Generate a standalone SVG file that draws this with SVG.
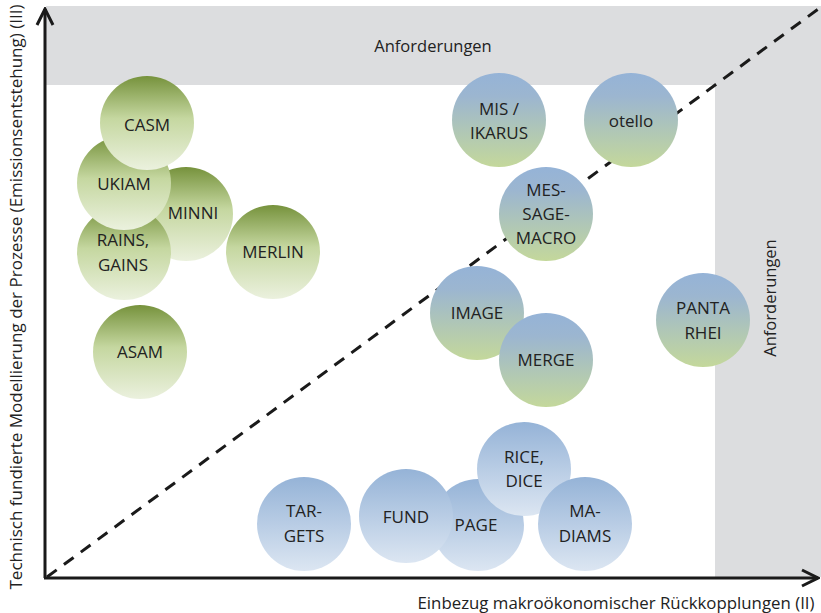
<svg xmlns="http://www.w3.org/2000/svg" width="821" height="613" viewBox="0 0 821 613">
<defs>
<linearGradient id="gGreen" x1="0" y1="0" x2="0" y2="1">
<stop offset="0" stop-color="#76923c"/>
<stop offset="0.45" stop-color="#c5d7a0"/>
<stop offset="1" stop-color="#ebf1de"/>
</linearGradient>
<linearGradient id="gMix" x1="0" y1="0" x2="0" y2="1">
<stop offset="0" stop-color="#95b3d7"/>
<stop offset="0.25" stop-color="#9cb6d0"/>
<stop offset="1" stop-color="#c4d89b"/>
</linearGradient>
<linearGradient id="gBlue" x1="0" y1="0" x2="0" y2="1">
<stop offset="0" stop-color="#95b3d7"/>
<stop offset="1" stop-color="#dce6f2"/>
</linearGradient>
<marker id="arr" viewBox="0 0 20 20" refX="18" refY="10" markerWidth="20" markerHeight="20" markerUnits="userSpaceOnUse" orient="auto">
<polyline points="2,2 18,10 2,18" fill="none" stroke="#1a1a1a" stroke-width="3"/>
</marker>
<style>
.n text{font-family:"Open Sans","Liberation Sans",sans-serif;font-size:17px;fill:#222222;text-anchor:middle}
.g circle{fill:url(#gGreen)}
.m circle{fill:url(#gMix)}
.b circle{fill:url(#gBlue)}
.lbl{font-family:"Open Sans","Liberation Sans",sans-serif;font-size:16.5px;fill:#222222;text-anchor:middle}
.axis{stroke:#1a1a1a;stroke-width:3;fill:none}
</style>
</defs>
<rect width="821" height="613" fill="#ffffff"/>
<g id="bands" fill="#dcdddf">
<rect x="46" y="6" width="775" height="79"/>
<rect x="715" y="85" width="106" height="492"/>
</g>
<text class="lbl" x="433" y="52">Anforderungen</text>
<text class="lbl" transform="translate(776,298) rotate(-90)">Anforderungen</text>
<g id="connectors">
<line x1="47" y1="577" x2="821" y2="7" stroke="#1a1a1a" stroke-width="3" stroke-dasharray="12 9"/>
<line class="axis" x1="45" y1="578" x2="45" y2="9" marker-end="url(#arr)"/>
<line class="axis" x1="44" y1="578" x2="818" y2="578" marker-end="url(#arr)"/>
</g>
<text class="lbl" transform="translate(22,297) rotate(-90)" textLength="585" lengthAdjust="spacingAndGlyphs">Technisch fundierte Modellierung der Prozesse (Emissionsentstehung) (III)</text>
<text class="lbl" x="616" y="609" textLength="397" lengthAdjust="spacingAndGlyphs">Einbezug makroökonomischer Rückkopplungen (II)</text>
<g id="MINNI" class="n g"><circle cx="186" cy="214" r="47"/><text x="193" y="219">MINNI</text></g>
<g id="RAINS" class="n g"><circle cx="124" cy="253" r="47"/><text x="123" y="246">RAINS,</text><text x="123" y="271">GAINS</text></g>
<g id="UKIAM" class="n g"><circle cx="124" cy="183" r="47"/><text x="124" y="190">UKIAM</text></g>
<g id="CASM" class="n g"><circle cx="147" cy="123" r="47"/><text x="147" y="131">CASM</text></g>
<g id="MERLIN" class="n g"><circle cx="273" cy="252" r="47"/><text x="273" y="258">MERLIN</text></g>
<g id="ASAM" class="n g"><circle cx="140" cy="352" r="47"/><text x="140" y="358">ASAM</text></g>
<g id="MIS" class="n m"><circle cx="499" cy="120" r="47"/><text x="499" y="115">MIS /</text><text x="499" y="139">IKARUS</text></g>
<g id="otello" class="n m"><circle cx="631" cy="120" r="47"/><text x="631" y="127">otello</text></g>
<g id="MESSAGE" class="n m"><circle cx="546" cy="214" r="47"/><text x="546" y="196">MES-</text><text x="546" y="220">SAGE-</text><text x="546" y="244">MACRO</text></g>
<g id="IMAGE" class="n m"><circle cx="477" cy="313" r="47"/><text x="477" y="319">IMAGE</text></g>
<g id="MERGE" class="n m"><circle cx="546" cy="360" r="47"/><text x="546" y="366">MERGE</text></g>
<g id="PANTA" class="n m"><circle cx="703" cy="320" r="47"/><text x="703" y="314">PANTA</text><text x="703" y="339">RHEI</text></g>
<g id="TARGETS" class="n b"><circle cx="304" cy="524" r="47"/><text x="304" y="517">TAR-</text><text x="304" y="542">GETS</text></g>
<g id="PAGE" class="n b"><circle cx="478" cy="525" r="46"/><text x="476" y="531">PAGE</text></g>
<g id="FUND" class="n b"><circle cx="406" cy="516" r="47"/><text x="406" y="523">FUND</text></g>
<g id="RICE" class="n b"><circle cx="524" cy="469" r="47"/><text x="524" y="463">RICE,</text><text x="524" y="487">DICE</text></g>
<g id="MADIAMS" class="n b"><circle cx="585" cy="524" r="47"/><text x="585" y="517">MA-</text><text x="585" y="542">DIAMS</text></g>
</svg>
